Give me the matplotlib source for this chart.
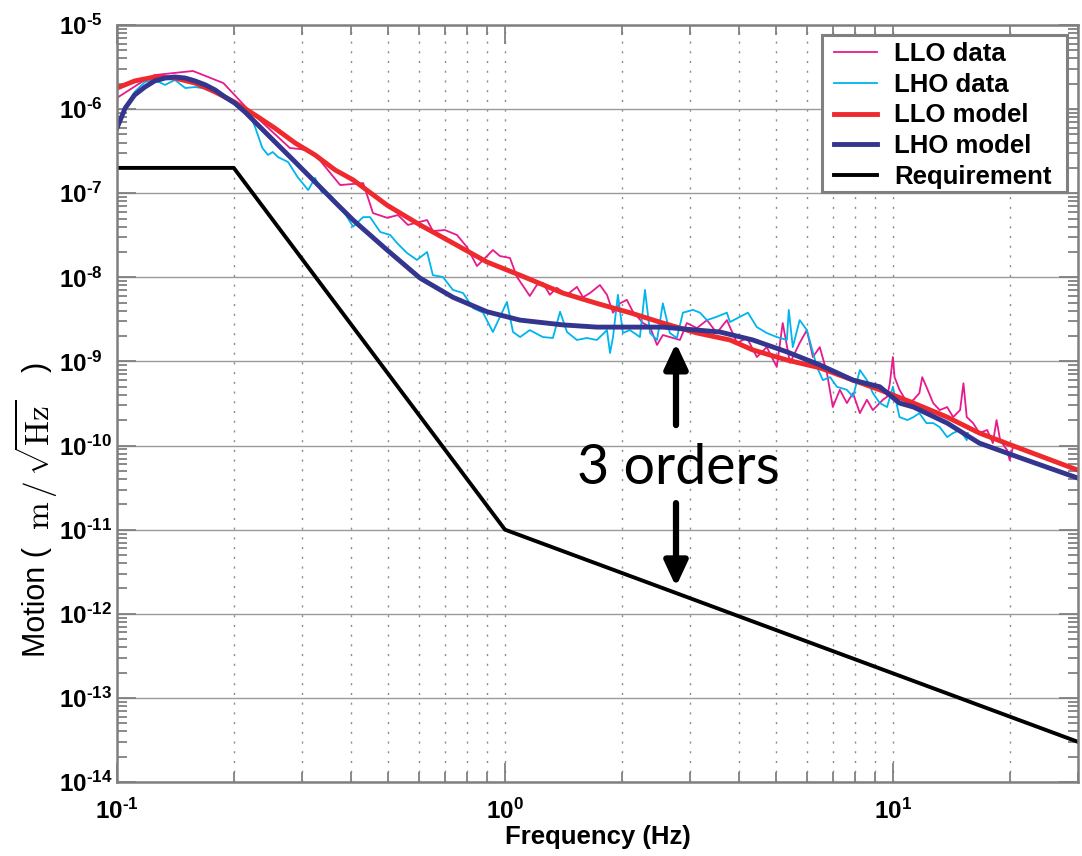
import numpy as np
import matplotlib
matplotlib.use("Agg")
import matplotlib.pyplot as plt
from matplotlib.patches import Rectangle
from matplotlib.ticker import FixedLocator, FuncFormatter, NullFormatter

# ---------------- data ----------------
llo_data_f = [0.100, 0.118, 0.125, 0.157, 0.188, 0.216, 0.279, 0.311, 0.333, 0.376,
              0.431, 0.457, 0.497, 0.530, 0.562, 0.630, 0.652, 0.700, 0.752, 0.798,
              0.847, 0.931, 0.971, 1.030, 1.074, 1.159, 1.208, 1.252, 1.305, 1.361,
              1.445, 1.533, 1.589, 1.656, 1.757, 1.832, 1.899, 1.978, 2.061, 2.137,
              2.270, 2.366, 2.466, 2.553, 2.661, 2.825, 2.943, 3.125, 3.317, 3.517,
              3.733, 3.963, 4.207, 4.459, 4.73, 5.02, 5.20, 5.43, 5.75, 6.00,
              6.22, 6.48, 6.76, 7.00, 7.30, 7.61, 7.89, 8.22, 8.57, 8.88,
              9.42, 9.66, 9.82, 10.0, 10.1, 10.4, 10.9, 11.3, 11.7, 11.9,
              12.2, 12.7, 13.2, 13.8, 14.3, 14.9, 15.2, 15.5, 16.1, 16.7,
              17.5, 18.1, 18.5, 18.9, 19.7, 20.0, 20.4]
llo_data_v = [1.36e-6, 2.22e-6, 2.54e-6, 2.84e-6, 2.04e-6, 1.03e-6, 3.45e-7, 3.27e-7, 2.48e-7, 1.25e-7,
              1.32e-7, 5.8e-8, 5.1e-8, 5.5e-8, 4.2e-8, 4.8e-8, 3.55e-8, 3.65e-8, 3.19e-8, 2.29e-8,
              1.36e-8, 2.11e-8, 1.79e-8, 1.70e-8, 1.01e-8, 6.0e-9, 8.1e-9, 8.6e-9, 6.2e-9, 7.5e-9,
              6.2e-9, 7.7e-9, 5.8e-9, 6.5e-9, 8.1e-9, 6.2e-9, 3.8e-9, 4.9e-9, 5.4e-9, 3.9e-9,
              2.86e-9, 2.56e-9, 1.57e-9, 2.06e-9, 1.95e-9, 1.80e-9, 2.86e-9, 2.49e-9, 3.1e-9, 2.18e-9,
              3.1e-9, 1.66e-9, 1.90e-9, 1.13e-9, 1.48e-9, 8.6e-10, 2.86e-9, 9.6e-10, 1.66e-9, 2.36e-9,
              1.13e-9, 1.48e-9, 7.3e-10, 2.87e-10, 4.6e-10, 3.2e-10, 4.2e-10, 2.43e-10, 3.5e-10, 2.64e-10,
              3.5e-10, 3.8e-10, 5.5e-10, 1.13e-9, 6.5e-10, 4.6e-10, 3.2e-10, 3.5e-10, 4.2e-10, 6.5e-10,
              5.0e-10, 3.2e-10, 2.64e-10, 2.87e-10, 2.18e-10, 2.64e-10, 5.5e-10, 2.18e-10, 1.85e-10, 1.41e-10,
              1.53e-10, 1.07e-10, 2.01e-10, 1.16e-10, 8.8e-11, 6.7e-11, 9.6e-11]

lho_data_f = [0.100, 0.105, 0.111, 0.118, 0.125, 0.133, 0.141, 0.150, 0.159, 0.179,
              0.193, 0.205, 0.218, 0.227, 0.237, 0.245, 0.252, 0.260, 0.276, 0.292,
              0.311, 0.324, 0.337, 0.354, 0.382, 0.406, 0.431, 0.449, 0.477, 0.506,
              0.527, 0.559, 0.593, 0.630, 0.652, 0.692, 0.734, 0.780, 0.828, 0.878,
              0.931, 0.982, 1.012, 1.049, 1.094, 1.159, 1.252, 1.329, 1.387, 1.445,
              1.533, 1.626, 1.726, 1.832, 1.866, 1.899, 1.955, 2.014, 2.099, 2.228,
              2.296, 2.366, 2.466, 2.553, 2.661, 2.774, 2.876, 3.053, 3.182, 3.317,
              3.517, 3.733, 3.802, 4.036, 4.23, 4.459, 4.73, 5.02, 5.33, 5.39,
              5.52, 5.75, 6.00, 6.37, 6.60, 6.89, 7.17, 7.61, 7.89, 8.22,
              8.57, 8.88, 9.25, 9.66, 10.0, 10.4, 10.9, 11.3, 11.7, 12.2,
              12.7, 13.2, 13.8, 14.3, 14.9, 15.5, 15.6]
lho_data_v = [6.1e-7, 1.03e-6, 1.60e-6, 2.10e-6, 2.22e-6, 1.94e-6, 2.22e-6, 1.78e-6, 1.83e-6, 1.69e-6,
              1.39e-6, 1.06e-6, 9.8e-7, 6.1e-7, 3.45e-7, 2.85e-7, 3.09e-7, 2.69e-7, 2.35e-7, 1.56e-7,
              1.09e-7, 1.52e-7, 1.03e-7, 9.5e-8, 6.3e-8, 4.0e-8, 5.2e-8, 5.2e-8, 3.46e-8, 3.19e-8,
              2.56e-8, 1.95e-8, 1.61e-8, 2.0e-8, 1.06e-8, 1.01e-8, 7.1e-9, 6.5e-9, 4.3e-9, 3.8e-9,
              2.24e-9, 3.8e-9, 5.1e-9, 2.24e-9, 1.95e-9, 2.36e-9, 1.95e-9, 1.90e-9, 3.9e-9, 2.24e-9,
              1.80e-9, 1.90e-9, 1.80e-9, 2.36e-9, 1.26e-9, 1.95e-9, 6.2e-9, 2.18e-9, 2.36e-9, 1.95e-9,
              7.1e-9, 2.18e-9, 1.80e-9, 4.9e-9, 2.18e-9, 1.90e-9, 3.8e-9, 4.1e-9, 3.8e-9, 3.1e-9,
              3.4e-9, 3.8e-9, 2.94e-9, 3.4e-9, 3.8e-9, 2.56e-9, 2.18e-9, 1.95e-9, 1.80e-9, 4.1e-9,
              1.48e-9, 3.1e-9, 2.36e-9, 8.6e-10, 6.0e-10, 6.5e-10, 5.0e-10, 4.6e-10, 3.8e-10, 7.9e-10,
              6.0e-10, 4.2e-10, 3.2e-10, 2.87e-10, 5.0e-10, 2.18e-10, 2.01e-10, 2.18e-10, 2.43e-10, 1.85e-10,
              1.85e-10, 1.66e-10, 1.26e-10, 1.41e-10, 1.53e-10, 1.16e-10, 1.41e-10]

llo_model_f = [0.100, 0.111, 0.125, 0.141, 0.159, 0.179, 0.201, 0.227, 0.255, 0.288,
               0.324, 0.365, 0.406, 0.497, 0.604, 0.734, 0.899, 1.094, 1.410, 1.726,
               2.099, 2.553, 3.125, 3.802, 4.355, 5.33, 6.48, 7.89, 9.25, 11.3,
               13.8, 16.7, 21.2, 30.0]
llo_model_v = [1.78e-6, 2.16e-6, 2.41e-6, 2.34e-6, 2.04e-6, 1.60e-6, 1.21e-6, 8.5e-7, 5.96e-7, 3.95e-7,
               2.85e-7, 1.89e-7, 1.44e-7, 7.2e-8, 4.2e-8, 2.56e-8, 1.52e-8, 1.06e-8, 6.5e-9, 4.9e-9,
               3.8e-9, 2.86e-9, 2.18e-9, 1.80e-9, 1.37e-9, 1.04e-9, 8.4e-10, 6.0e-10, 4.6e-10, 3.2e-10,
               2.18e-10, 1.41e-10, 9.3e-11, 5.1e-11]

lho_model_f = [0.100, 0.105, 0.111, 0.118, 0.125, 0.133, 0.141, 0.150, 0.159, 0.169,
               0.179, 0.190, 0.201, 0.214, 0.227, 0.255, 0.288, 0.324, 0.365, 0.406,
               0.497, 0.604, 0.734, 0.899, 1.094, 1.410, 1.726, 2.099, 2.553, 3.125,
               3.581, 4.355, 5.33, 6.48, 7.89, 9.25, 10.4, 11.3, 13.8, 16.7,
               21.2, 30.0]
lho_model_v = [5.96e-7, 1.03e-6, 1.47e-6, 1.83e-6, 2.16e-6, 2.34e-6, 2.41e-6, 2.34e-6, 2.16e-6, 1.94e-6,
               1.69e-6, 1.39e-6, 1.18e-6, 9.2e-7, 7.0e-7, 4.1e-7, 2.35e-7, 1.36e-7, 7.8e-8, 4.8e-8,
               2.11e-8, 9.8e-9, 5.8e-9, 3.9e-9, 3.1e-9, 2.72e-9, 2.56e-9, 2.56e-9, 2.56e-9, 2.36e-9,
               2.24e-9, 1.80e-9, 1.30e-9, 9.1e-10, 6.0e-10, 5.0e-10, 3.2e-10, 2.87e-10, 1.85e-10, 1.07e-10,
               7.2e-11, 4.1e-11]

req_f = [0.1, 0.2, 1.0, 30.0]
req_v = [2e-7, 2e-7, 1e-11, 3e-14]

labels = ["LLO data", "LHO data", "LLO model", "LHO model", "Requirement"]
colors = ["#E8198C", "#00B4EE", "#EE2A2E", "#33358F", "#000000"]

x_major = [0.1, 1.0, 10.0]
y_major_exp = list(range(-14, -4))

annot_text = "3 orders"

# ---------------- styling ----------------
plt.rcParams["font.family"] = ["Liberation Sans", "DejaVu Sans"]
plt.rcParams["mathtext.fontset"] = "custom"
plt.rcParams["mathtext.rm"] = "cmr10"
plt.rcParams["mathtext.it"] = "cmmi10"
plt.rcParams["mathtext.bf"] = "Liberation Sans:bold"

W, H = 1082, 856
fig = plt.figure(figsize=(W / 100, H / 100), dpi=100)
ax = fig.add_axes([117 / W, 1 - 782 / H, 961 / W, 757 / H])

ax.plot(llo_data_f, llo_data_v, color=colors[0], lw=1.3, label=labels[0])
ax.plot(lho_data_f, lho_data_v, color=colors[1], lw=1.3, label=labels[1])
ax.plot(llo_model_f, llo_model_v, color=colors[2], lw=3.5, label=labels[2])
ax.plot(lho_model_f, lho_model_v, color=colors[3], lw=3.5, label=labels[3])
ax.plot(req_f, req_v, color=colors[4], lw=2.8, label=labels[4])

ax.set_xscale("log")
ax.set_yscale("log")
ax.set_xlim(0.1, 30)
ax.set_ylim(1e-14, 1e-5)

x_minor = [m * d for d in (0.1, 1.0, 10.0) for m in range(2, 10) if m * d <= 30]
y_major = [10.0 ** e for e in y_major_exp]
y_minor = [m * 10.0 ** e for e in y_major_exp[:-1] for m in range(2, 10)]
ax.xaxis.set_major_locator(FixedLocator(x_major))
ax.xaxis.set_minor_locator(FixedLocator(x_minor))
ax.yaxis.set_major_locator(FixedLocator(y_major))
ax.yaxis.set_minor_locator(FixedLocator(y_minor))


def fmt_func(v, p):
    e = str(int(round(np.log10(v)))).replace("-", "\u2010")
    return r"$\mathbf{10^{%s}}$" % e


fmt = FuncFormatter(fmt_func)
ax.xaxis.set_major_formatter(fmt)
ax.yaxis.set_major_formatter(fmt)
ax.xaxis.set_minor_formatter(NullFormatter())
ax.yaxis.set_minor_formatter(NullFormatter())

gray = "#808080"
ax.tick_params(which="both", direction="in", top=True, right=True, color=gray, width=1.3)
ax.tick_params(which="major", length=14, labelsize=17.5)
ax.tick_params(axis="y", which="major", pad=41.5)
ax.tick_params(axis="x", which="major", pad=12)
ax.tick_params(which="minor", length=7.5)
for lab in ax.get_yticklabels():
    lab.set_horizontalalignment("left")
for s in ax.spines.values():
    s.set_color(gray)
    s.set_linewidth(1.8)

ax.set_axisbelow(True)
ax.yaxis.grid(True, which="major", color="#9a9a9a", lw=1.0, ls="-")
ax.xaxis.grid(True, which="both", color="#8a8a8a", lw=1.0, ls=(0, (1.5, 5.5)))

ax.set_xlabel("Frequency (Hz)", fontsize=18.5, fontweight="bold", va="top")
ax.xaxis.set_label_coords(0.5, -0.0565)


# y label built from three pieces (sans text + larger serif math)
def px(x, y):
    return x / W, 1 - y / H


fig.text(*px(45, 657), "Motion (", rotation=90, rotation_mode="anchor",
         ha="left", va="baseline", fontsize=22)
fig.text(*px(49, 530), r"$\mathrm{m}\,/\,\sqrt{\mathrm{Hz}}$", rotation=90, rotation_mode="anchor",
         ha="left", va="baseline", fontsize=24)
fig.text(*px(45, 372), ")", rotation=90, rotation_mode="anchor",
         ha="left", va="baseline", fontsize=22)

# legend frame (drawn separately so that its padding matches the reference)
aw, ah = 961.0, 757.0
ax.add_patch(Rectangle(((822 - 117) / aw, (782 - 192) / ah), 245 / aw, 157 / ah,
                       transform=ax.transAxes, facecolor="white", edgecolor=gray,
                       lw=2.2, zorder=4.9, clip_on=False))
leg = ax.legend(loc="upper right", bbox_to_anchor=((1057 - 117) / aw, (782 - 37) / ah),
                borderaxespad=0, frameon=False,
                prop={"weight": "bold", "size": 18.5}, labelspacing=0.26,
                handlelength=1.7, handletextpad=0.66, borderpad=0.2)

# annotation
ax.text(2.8, 5.4e-11, annot_text, fontsize=40, family="Lato", ha="center", va="center")
ap = dict(arrowstyle="-|>,head_length=0.75,head_width=0.35", lw=4.5, color="k",
          mutation_scale=20, shrinkA=0, shrinkB=0)
ax.annotate("", xy=(2.76, 1.65e-9), xytext=(2.76, 1.75e-10), arrowprops=ap)
ax.annotate("", xy=(2.76, 2.1e-12), xytext=(2.76, 2.07e-11), arrowprops=ap)

fig.savefig("out.png", dpi=100)
